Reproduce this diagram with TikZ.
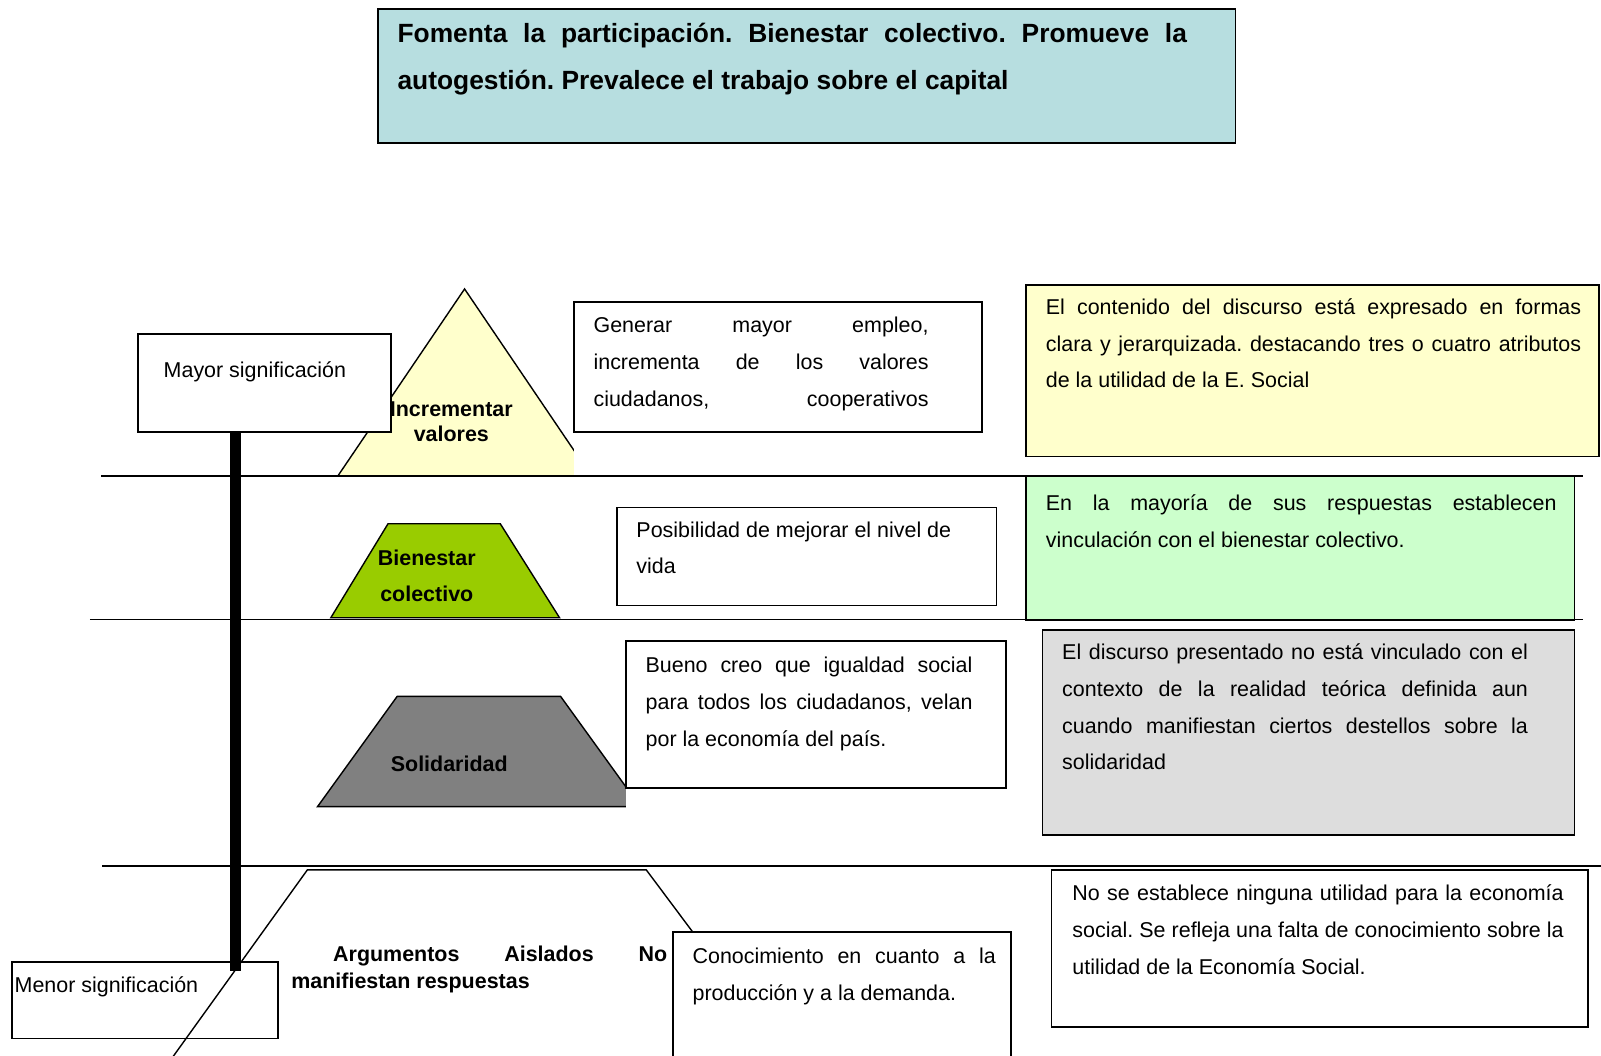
\documentclass[tikz,border=0pt]{standalone}
\usepackage{fontspec}
\setmainfont{Liberation Sans}
\usetikzlibrary{fit}
\newcommand{\ud}{0.020421cm}
\definecolor{celeste}{HTML}{B7DEE0}
\definecolor{crema}{HTML}{FFFFCC}
\definecolor{menta}{HTML}{CCFFCC}
\definecolor{lima}{HTML}{99CC00}
\definecolor{gris}{HTML}{808080}
\definecolor{grisclaro}{HTML}{DDDDDD}
\hbadness=10000
\hfuzz=3pt
\frenchspacing

\begin{document}
\begin{tikzpicture}[x=\ud, y=-\ud,
    caja/.style={draw, line width=0.9pt, inner sep=0pt, fill=white},
    texto/.style={anchor=base west, inner sep=0pt, align=justify, font=\fontsize{12.2}{20.9}\selectfont},
    rotulo/.style={inner sep=0pt, align=center, font=\fontsize{12.2}{14.5}\selectfont\bfseries},
    raya/.style={line width=0.8pt},
    figura/.style={draw, line width=0.8pt, line join=miter}]
  \useasboundingbox (0,0) rectangle (1568,1034);
  \clip (0,0) rectangle (1568,1034);

  \draw[raya] (99,466) -- (1550,466);
  \draw[raya] (88,607) -- (1550,607);
  \draw[raya] (100,848) -- (1568,848);

  \node[caja, fill=celeste, fit={(370,9) (1210,140)}] (lema) {};
  \node[texto, text width=15.785cm, font=\fontsize{15}{26.7}\selectfont\bfseries] (lematxt) at (389,42)
    {Fomenta la participación. Bienestar colectivo. Promueve la\linebreak autogestión. Prevalece el trabajo sobre el capital};

  \begin{scope}
    \clip (0,0) rectangle (562,470);
    \filldraw[figura, fill=crema] (331,466) -- (455,283) -- (579,466) -- cycle;
  \end{scope}
  \node[caja, fit={(135,327) (383,423)}] (mayor) {};
  \node[texto] (mayortxt) at (160,370) {Mayor significación};
  \node[rotulo] (incrementar) at (442,413) {Incrementar\\valores};

  \node[caja, fit={(562,296) (962,423)}] (generar) {};
  \node[texto, text width=6.698cm] (generartxt) at (581,326)
    {Generar mayor empleo,\linebreak incrementa de los valores\linebreak ciudadanos, \hfill cooperativos};

  \node[caja, fill=crema, fit={(1005,279) (1566,447)}] (amarilla) {};
  \node[texto, text width=10.701cm] (amarillatxt) at (1024,308)
    {El contenido del discurso está expresado en formas\linebreak clara y jerarquizada. destacando tres o cuatro atributos\linebreak de la utilidad de la E. Social};

  \node[caja, fill=menta, fit={(1005,466) (1542,607)}] (verde) {};
  \node[texto, text width=10.211cm] (verdetxt) at (1024,500)
    {En la mayoría de sus respuestas establecen\linebreak vinculación con el bienestar colectivo.};

  \filldraw[figura, fill=lima] (324,605) -- (380,513) -- (490,513) -- (548,605) -- cycle;
  \node[rotulo, font=\fontsize{12.2}{20.9}\selectfont\bfseries] (bienestar) at (418,564) {Bienestar\\colectivo};
  \node[caja, fit={(604,497) (976,593)}] (posibilidad) {};
  \node[texto, text width=6.943cm] (posibilidadtxt) at (623,526)
    {Posibilidad de mejorar el nivel de\\vida};

  \begin{scope}
    \clip (0,0) rectangle (613,800);
    \filldraw[figura, fill=gris] (311,790) -- (389,682) -- (549,682) -- (627,790) -- cycle;
  \end{scope}
  \node[rotulo] (solidaridad) at (440,748) {Solidaridad};
  \node[caja, fit={(613,628) (985,772)}] (bueno) {};
  \node[texto, text width=6.535cm] (buenotxt) at (632,659)
    {Bueno creo que igualdad social\linebreak para todos los ciudadanos, velan\linebreak por la economía del país.};

  \node[caja, fill=grisclaro, fit={(1021,617) (1542,818)}] (gris) {};
  \node[texto, text width=9.312cm] (gristxt) at (1040,646)
    {El discurso presentado no está vinculado con el\linebreak contexto de la realidad teórica definida aun\linebreak cuando manifiestan ciertos destellos sobre la\linebreak solidaridad};

  \node[caja, fit={(12,942) (272,1017)}] (menor) {};
  \node[texto] (menortxt) at (14,972) {Menor significación};
  \node[caja, fit={(659,913) (990,1050)}] (conoc) {};
  \node[texto, text width=6.065cm] (conoctxt) at (678,944)
    {Conocimiento en cuanto a la\linebreak producción y a la demanda.};

  \coordinate (b1) at (160,1048);
  \coordinate (b2) at (301,852);
  \coordinate (b3) at (633,852);
  \draw[figura] (b1) -- (b2) -- (b3) -- (678,0 |- conoc.north);
  \coordinate (fondo) at (231,951);
  \draw[line width=6.4pt] (231,0 |- mayor.south) -- (fondo);
  \node[texto, text width=7.515cm, font=\fontsize{12.2}{15}\selectfont\bfseries] (argumentos) at (285,942)
    {\hspace*{0.837cm}Argumentos Aislados No\linebreak manifiestan respuestas};

  \node[caja, fit={(1030,852) (1555,1006)}] (nose) {};
  \node[texto, text width=9.823cm] (nosetxt) at (1050,882)
    {No se establece ninguna utilidad para la economía\linebreak social. Se refleja una falta de conocimiento sobre la\linebreak utilidad de la Economía Social.};
\end{tikzpicture}
\end{document}
